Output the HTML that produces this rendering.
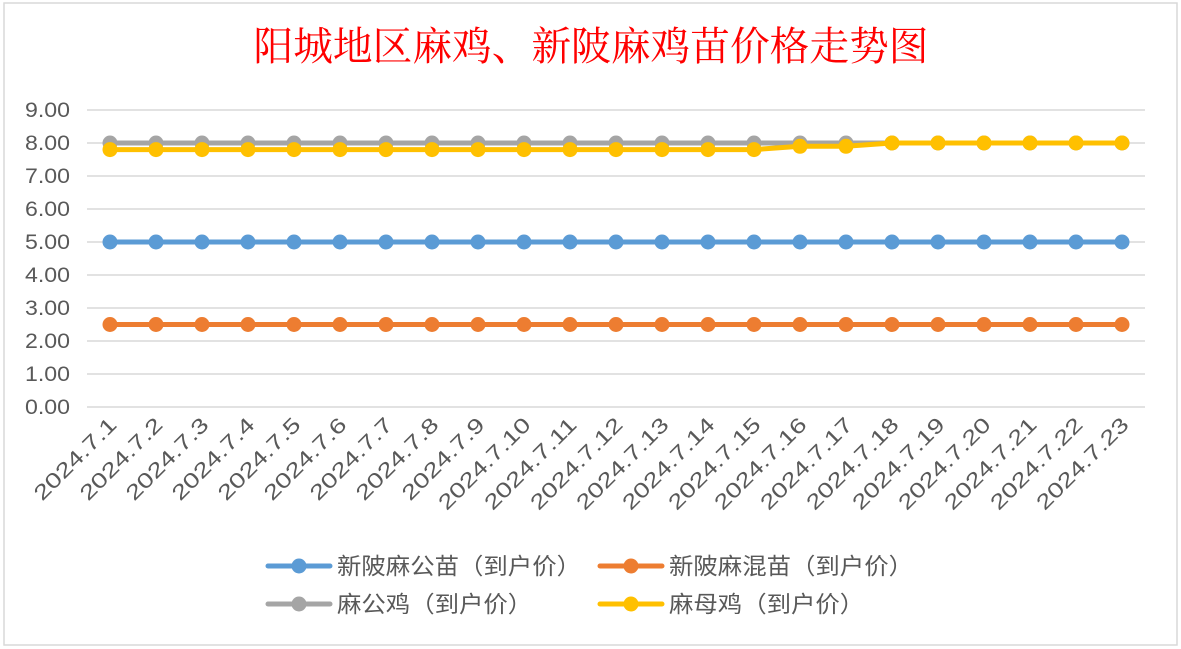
<!DOCTYPE html>
<html><head><meta charset="utf-8"><style>
body{margin:0;background:#fff;}
svg{display:block;font-family:"Liberation Sans","Noto Sans CJK SC",sans-serif;}
</style></head><body>
<svg id="chart" width="1181" height="649" viewBox="0 0 1181 649">
<rect x="0" y="0" width="1181" height="649" fill="#fff"/>
<rect x="4" y="3" width="1173" height="642" fill="#fff" stroke="#d9d9d9" stroke-width="1.5"/>
<text x="591" y="60" text-anchor="middle" font-size="40" fill="#ff0000" textLength="675" lengthAdjust="spacingAndGlyphs" style='font-family:"Liberation Serif","Noto Serif CJK SC",serif'>阳城地区麻鸡、新陂麻鸡苗价格走势图</text>
<g id="grid"></g><g id="yaxis"></g><g id="xaxis"></g><g id="series"></g>
<g id="legend"></g>
</svg>
<script>
const categories=["2024.7.1","2024.7.2","2024.7.3","2024.7.4","2024.7.5","2024.7.6","2024.7.7","2024.7.8","2024.7.9","2024.7.10","2024.7.11","2024.7.12","2024.7.13","2024.7.14","2024.7.15","2024.7.16","2024.7.17","2024.7.18","2024.7.19","2024.7.20","2024.7.21","2024.7.22","2024.7.23"];
const seriesNames=["新陂麻公苗（到户价）","新陂麻混苗（到户价）","麻公鸡（到户价）","麻母鸡（到户价）"];
const seriesColors=["#5b9bd5","#ed7d31","#a5a5a5","#ffc000"];
const gongMiao=[5,5,5,5,5,5,5,5,5,5,5,5,5,5,5,5,5,5,5,5,5,5,5];
const hunMiao=[2.5,2.5,2.5,2.5,2.5,2.5,2.5,2.5,2.5,2.5,2.5,2.5,2.5,2.5,2.5,2.5,2.5,2.5,2.5,2.5,2.5,2.5,2.5];
const gongJi=[8,8,8,8,8,8,8,8,8,8,8,8,8,8,8,8,8,8,8,8,8,8,8];
const muJi=[7.8,7.8,7.8,7.8,7.8,7.8,7.8,7.8,7.8,7.8,7.8,7.8,7.8,7.8,7.8,7.9,7.9,8,8,8,8,8,8];
const yTicks=[0,1,2,3,4,5,6,7,8,9];
const yTickLabels=["0.00","1.00","2.00","3.00","4.00","5.00","6.00","7.00","8.00","9.00"];
const NS="http://www.w3.org/2000/svg";
const x0=110,x1=1122,yTop=110,yBot=407,xL=87,xR=1145;
const xs=i=>x0+(x1-x0)*i/(categories.length-1);
const ys=v=>yBot-(yBot-yTop)*v/9;
function mk(tag,attrs,parent){const e=document.createElementNS(NS,tag);for(const k in attrs)e.setAttribute(k,attrs[k]);parent.appendChild(e);return e;}
const grid=document.getElementById('grid'),ya=document.getElementById('yaxis'),xa=document.getElementById('xaxis'),sg=document.getElementById('series'),lg=document.getElementById('legend');
yTicks.forEach((t,i)=>{
 const l=mk('line',{x1:xL,x2:xR,y1:ys(t),y2:ys(t),stroke:'#d9d9d9','stroke-width':1.5},grid);
 
 
 const tx=mk('text',{x:70,y:ys(t)+7,'text-anchor':'end','font-size':21,fill:'#595959',textLength:45,lengthAdjust:'spacingAndGlyphs'},ya);
 tx.textContent=yTickLabels[i];
 
 
});
categories.forEach((c,i)=>{
 const px=xs(i)+8,py=426;
 const tx=mk('text',{x:px,y:py,'text-anchor':'end','font-size':21,fill:'#595959',textLength:c.length*13.4,lengthAdjust:'spacingAndGlyphs',transform:`rotate(-45 ${px} ${py})`},xa);
 tx.textContent=c;
 
 
});
const allSeries=[gongMiao,hunMiao,gongJi,muJi];
const order=[0,1,2,3];
order.forEach(s=>{
 const data=allSeries[s];
 const g=mk('g',{},sg);
 
 
 const pl=mk('polyline',{points:data.map((v,i)=>xs(i)+','+ys(v)).join(' '),fill:'none',stroke:seriesColors[s],'stroke-width':5,'stroke-linejoin':'round'},g);
 
 
 data.forEach((v,i)=>{
  const c=mk('circle',{cx:xs(i),cy:ys(v),r:7.5,fill:seriesColors[s]},g);
  
  
 });
});
const legPos=[[268,566],[600,566],[268,604],[600,604]];
seriesNames.forEach((n,s)=>{
 const [lx,ly]=legPos[s];
 const g=mk('g',{},lg);
 
 
 mk('line',{x1:lx,x2:lx+62,y1:ly,y2:ly,stroke:seriesColors[s],'stroke-width':5,'stroke-linecap':'round'},g);
 mk('circle',{cx:lx+31,cy:ly,r:7.5,fill:seriesColors[s]},g);
 const t=mk('text',{x:lx+69,y:ly+8,'font-size':23,fill:'#595959',textLength:n.length*24.4,lengthAdjust:'spacingAndGlyphs'},g);
 t.textContent=n;
});
</script>
</body></html>
